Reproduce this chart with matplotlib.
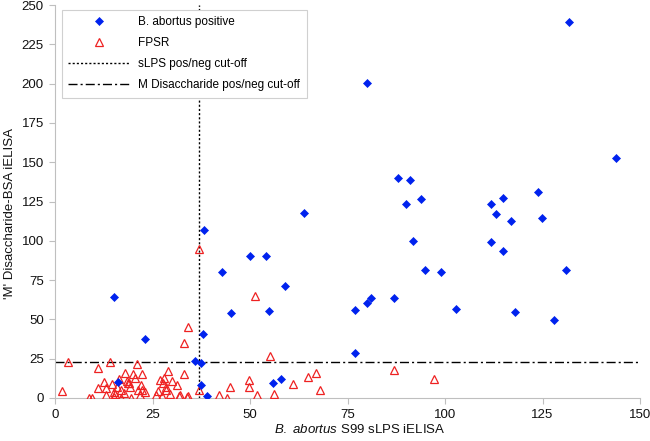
import matplotlib
matplotlib.use("Agg")
import matplotlib.pyplot as plt

plt.rcParams['font.family'] = ['Liberation Sans', 'DejaVu Sans']
plt.rcParams['mathtext.fontset'] = 'custom'
plt.rcParams['mathtext.it'] = 'Liberation Sans:italic'
plt.rcParams['mathtext.rm'] = 'Liberation Sans'
plt.rcParams['lines.scale_dashes'] = False

# B. abortus positive sera (x = sLPS iELISA, y = 'M' disaccharide iELISA)
pos_x = [131.8, 80.1, 143.8, 87.9, 90.9, 93.8, 114.8, 123.9, 89.9, 111.9,
         113.1, 116.8, 124.9, 91.8, 111.9, 114.8, 94.9, 99.0, 130.9, 79.9,
         81.0, 86.9, 102.9, 117.9, 127.9, 63.9, 38.1, 49.9, 54.2, 42.9,
         59.1, 15.0, 45.2, 54.9, 38.0, 36.0, 37.4, 37.4, 39.1, 56.0,
         57.9, 76.9, 76.8, 23.0, 16.2]
pos_y = [239.4, 200.6, 152.9, 139.7, 138.5, 126.6, 127.4, 131.2, 123.4, 123.4,
         117.2, 112.8, 114.7, 100.1, 99.4, 93.5, 81.2, 80.0, 81.2, 60.2,
         63.4, 63.4, 56.6, 54.7, 49.8, 117.9, 106.9, 90.3, 90.3, 80.4,
         71.4, 64.0, 54.3, 55.5, 40.9, 23.7, 22.5, 8.1, 1.5, 9.5,
         11.9, 56.0, 28.4, 37.5, 10.2]

# FPSR sera
fpsr_x = [37.0, 51.3, 34.1, 33.1, 55.0, 86.9, 97.1, 3.3, 14.2, 21.1,
          11.1, 18.0, 20.0, 29.1, 33.1, 27.9, 1.9, 8.7, 9.6, 11.1,
          13.2, 13.1, 15.1, 17.0, 17.7, 19.2, 18.7, 15.0, 17.0, 19.6,
          19.0, 21.3, 22.2, 21.8, 27.8, 31.2, 25.8, 26.5, 27.5, 28.5,
          29.5, 30.0, 28.5, 31.9, 34.0, 37.0, 32.1, 33.9, 42.0, 44.0,
          44.9, 49.8, 49.8, 51.9, 56.2, 60.9, 64.8, 66.9, 67.9, 16.5,
          18.5, 14.5, 16.0, 20.5, 22.0, 15.5, 12.5, 23.0, 22.2, 26.8]
fpsr_y = [95.0, 65.0, 45.4, 34.8, 27.0, 18.0, 12.4, 22.7, 23.2, 21.7,
          19.0, 16.0, 15.4, 17.0, 15.5, 13.0, 4.3, 0.0, 0.0, 6.6,
          6.5, 1.9, 4.0, 5.1, 3.0, 7.2, 9.3, 0.4, 0.0, 0.2,
          9.3, 5.1, 5.1, 1.9, 9.3, 8.3, 2.0, 4.5, 1.0, 5.0,
          2.5, 10.5, 6.8, 1.3, 1.3, 5.1, 1.9, 0.8, 1.9, 0.3,
          6.8, 11.5, 7.2, 1.9, 2.8, 8.7, 13.6, 15.7, 5.1, 12.0,
          11.0, 8.8, 7.0, 12.5, 8.0, 2.5, 10.0, 4.0, 15.0, 11.5]

SLPS_CUTOFF = 37.0
M_CUTOFF = 23.0
X_MAX = 150
Y_MAX = 250
x_ticks = [0, 25, 50, 75, 100, 125, 150]
y_ticks = [0, 25, 50, 75, 100, 125, 150, 175, 200, 225, 250]

labels = ["B. abortus positive", "FPSR", "sLPS pos/neg cut-off",
          "M Disaccharide pos/neg cut-off"]

W, H = 650, 441
fig = plt.figure(figsize=(W / 100, H / 100), dpi=100)
ax = fig.add_axes([55 / W, 1 - 398 / H, 585 / W, 393 / H])

dashdot = (6.5, 2.2, 1.5, 2.2)
dotted = (1.5, 1.5)

l_v, = ax.plot([SLPS_CUTOFF, SLPS_CUTOFF], [0, Y_MAX], color='black', lw=1.0,
               dashes=dotted, zorder=2)
l_h, = ax.plot([0, X_MAX], [M_CUTOFF, M_CUTOFF], color='black', lw=1.0,
               dashes=dashdot, zorder=2)
p_fpsr, = ax.plot(fpsr_x, fpsr_y, ls='none', marker='^', markersize=6.4,
                  markerfacecolor='none', markeredgecolor='#EE2222',
                  markeredgewidth=0.9, zorder=3)
p_pos, = ax.plot(pos_x, pos_y, ls='none', marker='D', markersize=4.2,
                 color='#0022EE', markeredgewidth=0.5, zorder=4)

ax.set_xlim(0, X_MAX)
ax.set_ylim(0, Y_MAX)
ax.set_xticks(x_ticks)
ax.set_yticks(y_ticks)
for s in ['top', 'right']:
    ax.spines[s].set_visible(False)
for s in ['left', 'bottom']:
    ax.spines[s].set_color('#BFBFBF')
    ax.spines[s].set_linewidth(0.8)
ax.tick_params(axis='both', direction='out', length=4, width=0.8,
               color='#BFBFBF', labelsize=9.5, labelcolor='#111111', pad=4)

ax.set_ylabel("'M' Disaccharide-BSA iELISA", fontsize=9.5, color='#111111')
ax.yaxis.set_label_coords(-0.066, 0.47)
ax.set_xlabel(r"$\it{B.\ abortus}$ S99 sLPS iELISA", fontsize=9.5, color='#111111')
ax.xaxis.set_label_coords(0.52, -0.064)

leg = ax.legend([p_pos, p_fpsr, l_v, l_h], labels, loc='upper left',
                bbox_to_anchor=(62 / W, 1 - 10 / H), bbox_transform=fig.transFigure,
                borderaxespad=0, fontsize=8.5, frameon=True, fancybox=False,
                edgecolor='#D0D0D0', framealpha=1, numpoints=1,
                handlelength=5.2, handletextpad=0.7, borderpad=0.55,
                labelspacing=0.75)
leg.get_frame().set_linewidth(0.8)

fig.savefig("out.png", dpi=100)
